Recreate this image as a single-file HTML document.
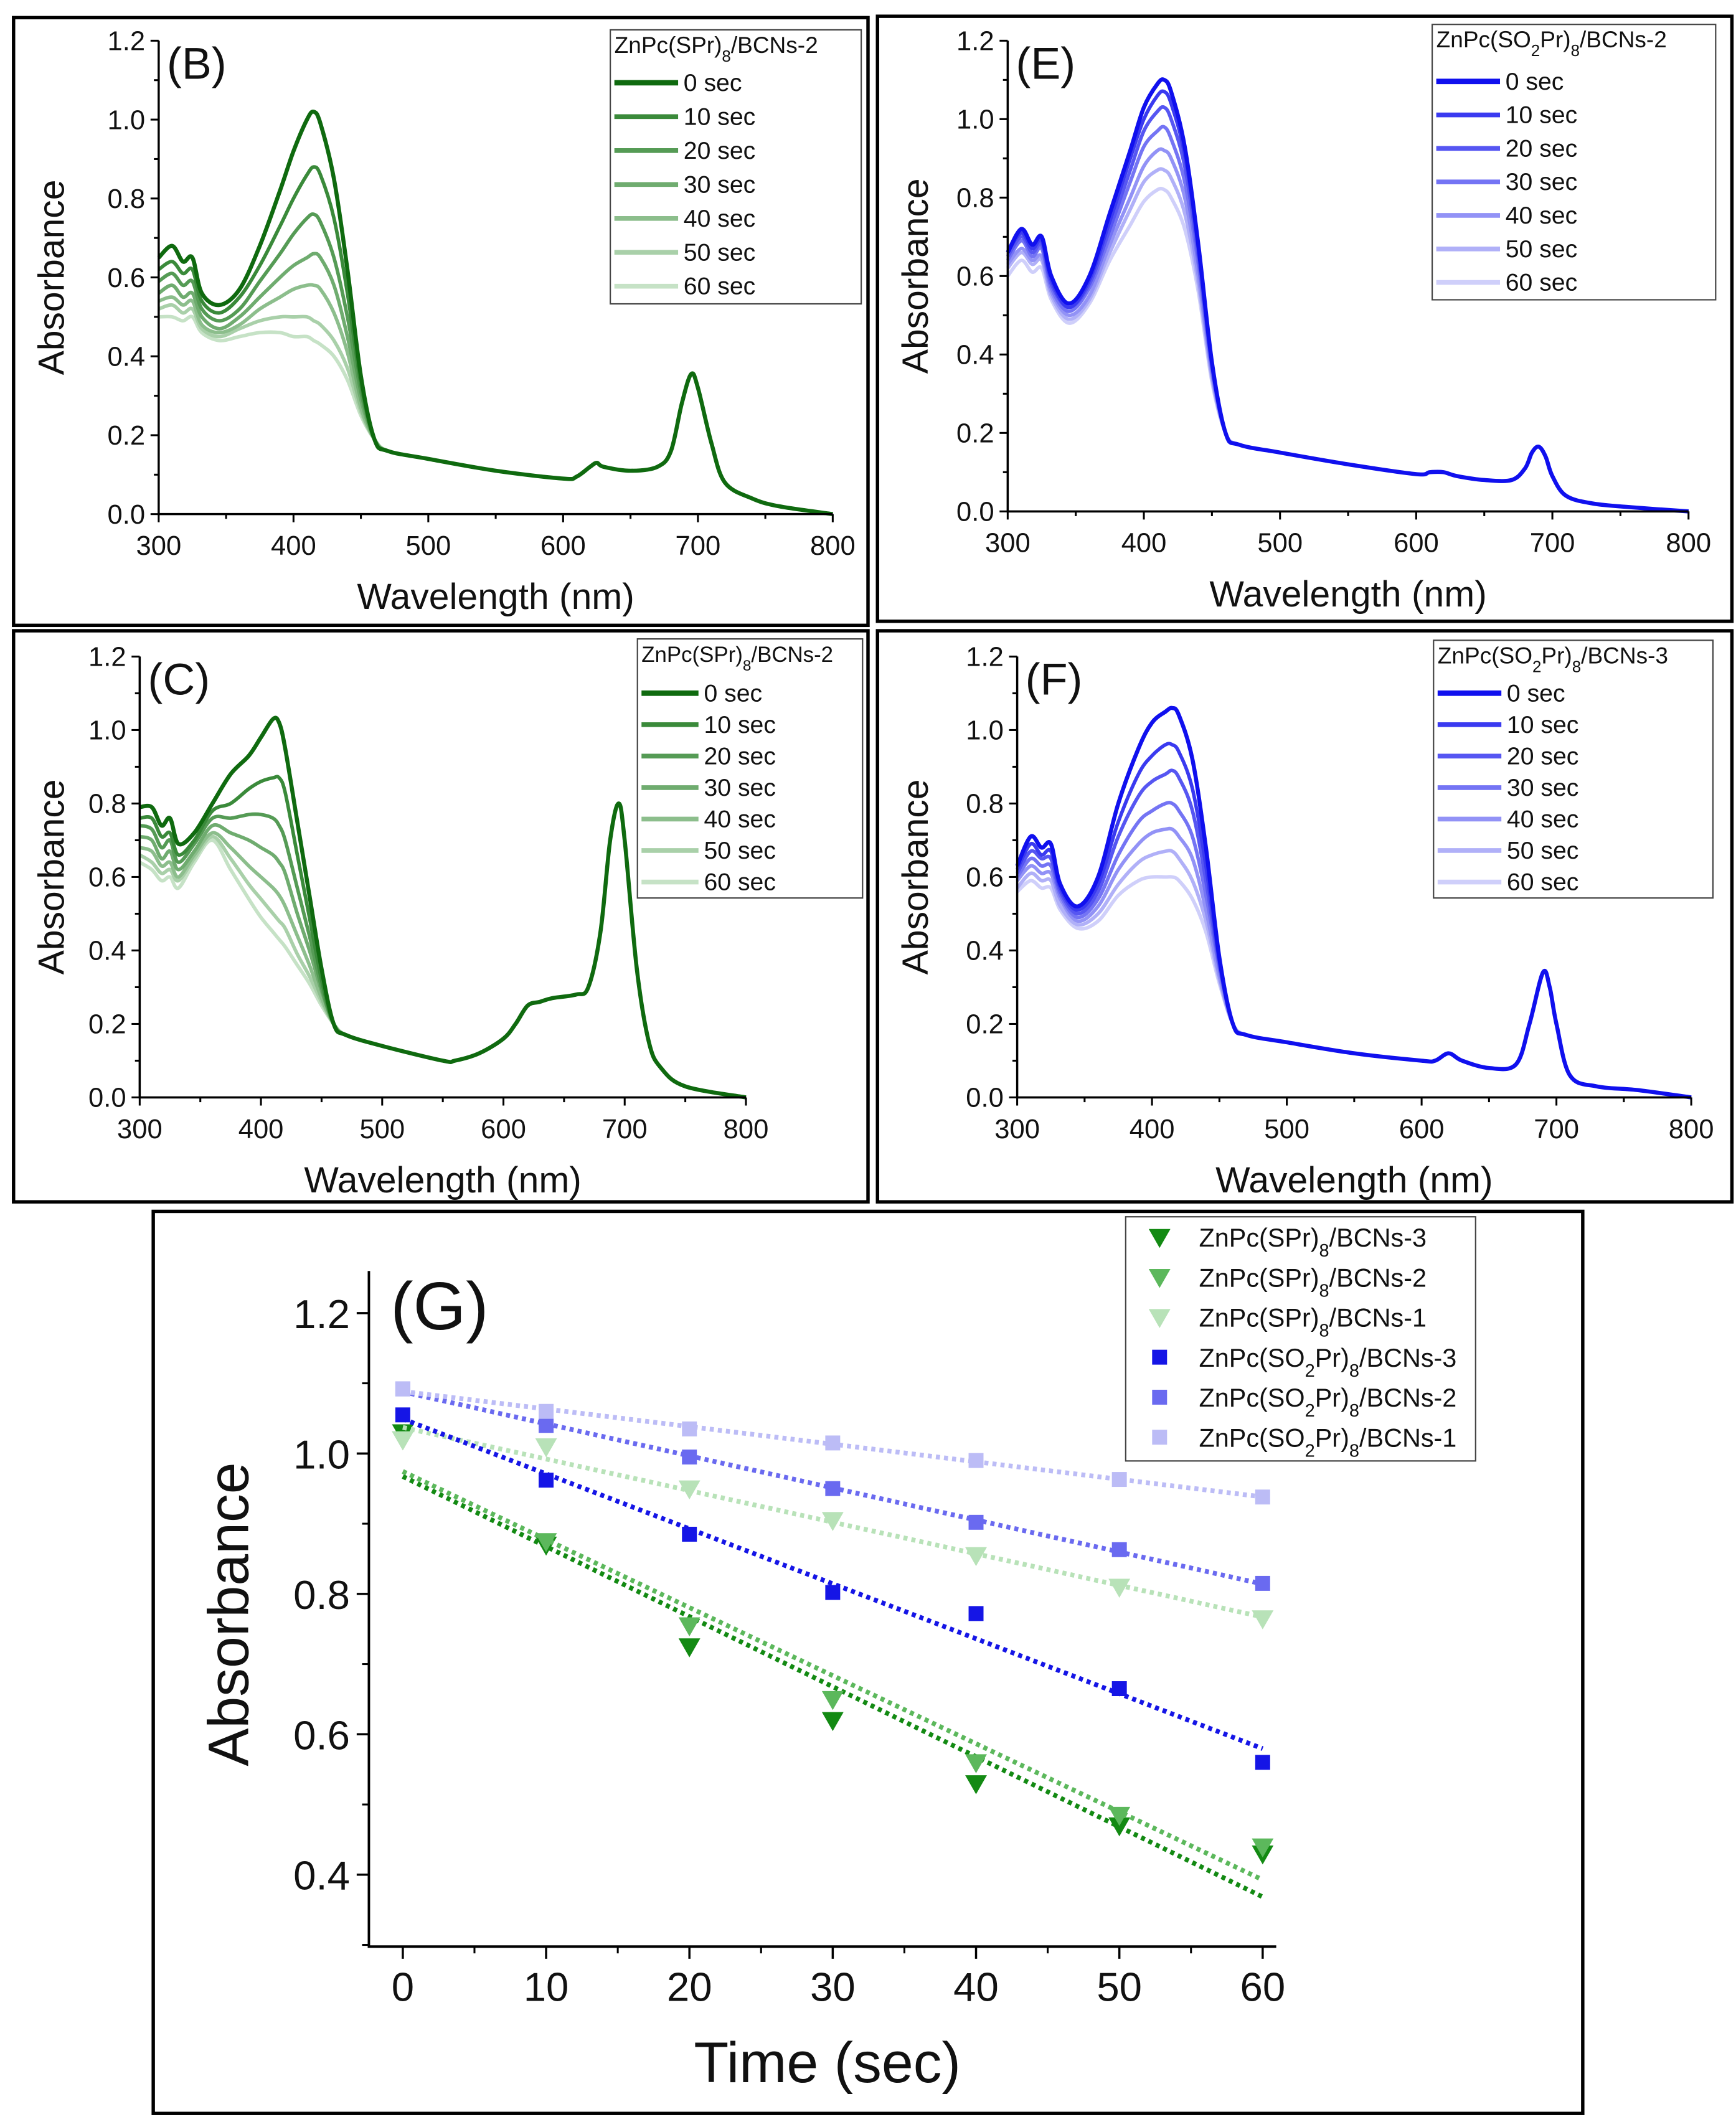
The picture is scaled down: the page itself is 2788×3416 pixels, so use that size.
<!DOCTYPE html>
<html><head><meta charset="utf-8"><style>
html,body{margin:0;padding:0;background:#fff}
svg{display:block}
text{font-family:"Liberation Sans",sans-serif;fill:#111}
</style></head><body>
<svg id="fig" width="2788" height="3416" viewBox="0 0 1280 1568" preserveAspectRatio="none" xmlns="http://www.w3.org/2000/svg"></svg>
<script>
// ---------- Spectral data ----------
const headWl = [300,310,318,325,332,345,360,375,390,400,410,415,420,430,440,450,460];
const timeLabels = ["0 sec","10 sec","20 sec","30 sec","40 sec","50 sec","60 sec"];

const headB = [
 [.65,.68,.64,.65,.56,.53,.57,.68,.82,.92,1.00,1.02,.99,.85,.62,.35,.19],
 [.62,.64,.61,.62,.54,.51,.55,.63,.73,.80,.86,.88,.86,.75,.56,.33,.19],
 [.59,.61,.58,.59,.52,.49,.52,.59,.66,.71,.75,.76,.74,.65,.50,.31,.19],
 [.56,.58,.55,.56,.50,.47,.50,.55,.60,.63,.65,.66,.65,.58,.45,.29,.19],
 [.54,.55,.53,.54,.48,.46,.48,.52,.55,.57,.58,.58,.57,.51,.41,.27,.19],
 [.52,.53,.51,.52,.47,.45,.47,.49,.50,.50,.50,.49,.48,.44,.37,.26,.19],
 [.50,.50,.49,.50,.46,.44,.45,.46,.46,.45,.45,.44,.43,.40,.34,.25,.19]];
const tailWlB = [470,500,550,600,610,620,625,630,650,670,680,688,695,700,710,720,740,760,800];
const tailB = [.16,.14,.11,.09,.095,.12,.13,.12,.11,.12,.16,.28,.355,.32,.18,.08,.04,.02,.0];

const headE = [
 [.66,.72,.68,.70,.60,.53,.60,.76,.92,1.03,1.09,1.10,1.07,.93,.68,.38,.20],
 [.66,.71,.67,.69,.59,.52,.59,.74,.90,1.00,1.06,1.07,1.04,.91,.67,.38,.20],
 [.65,.70,.66,.68,.58,.52,.58,.72,.87,.97,1.02,1.03,1.00,.88,.65,.37,.20],
 [.64,.69,.65,.67,.57,.51,.57,.70,.84,.93,.97,.98,.95,.84,.63,.36,.20],
 [.63,.67,.64,.65,.56,.50,.55,.68,.80,.88,.92,.92,.90,.80,.60,.35,.20],
 [.62,.66,.63,.64,.55,.49,.54,.66,.77,.84,.87,.87,.85,.76,.58,.34,.20],
 [.60,.64,.61,.62,.54,.48,.53,.64,.73,.79,.82,.82,.80,.72,.56,.33,.20]];
const tailWlE = [470,500,550,600,610,620,630,650,670,680,685,690,695,700,710,730,760,800];
const tailE = [.17,.15,.12,.095,.10,.10,.09,.08,.08,.11,.15,.165,.14,.09,.04,.02,.01,0];

const headC = [
 [.79,.79,.74,.76,.69,.72,.80,.88,.93,.98,1.03,1.02,.95,.75,.55,.35,.20],
 [.76,.76,.71,.72,.66,.70,.78,.80,.84,.86,.87,.87,.83,.66,.49,.32,.20],
 [.74,.73,.68,.70,.64,.69,.76,.76,.77,.77,.76,.74,.70,.57,.44,.30,.20],
 [.71,.70,.65,.67,.62,.67,.74,.72,.70,.68,.66,.64,.61,.50,.40,.29,.20],
 [.68,.67,.63,.64,.60,.66,.72,.68,.63,.60,.57,.55,.52,.44,.36,.27,.20],
 [.66,.64,.61,.62,.59,.65,.71,.65,.58,.54,.50,.48,.46,.39,.33,.26,.20],
 [.64,.62,.59,.60,.57,.64,.70,.62,.54,.49,.45,.43,.41,.36,.31,.25,.20]];
const tailWlC = [470,500,550,560,580,600,610,620,630,640,660,670,680,688,695,700,710,720,730,750,800];
const tailC = [.17,.14,.10,.10,.12,.16,.20,.25,.26,.27,.28,.30,.45,.70,.80,.70,.35,.15,.08,.03,0];

const headF = [
 [.63,.71,.68,.69,.58,.52,.60,.80,.95,1.02,1.05,1.06,1.04,.92,.68,.38,.20],
 [.62,.69,.66,.67,.57,.51,.58,.75,.88,.93,.96,.96,.94,.84,.63,.37,.20],
 [.61,.67,.65,.65,.56,.50,.56,.71,.82,.86,.88,.89,.87,.78,.59,.36,.20],
 [.60,.65,.63,.63,.55,.49,.54,.66,.75,.78,.80,.80,.78,.71,.55,.35,.20],
 [.59,.63,.61,.61,.54,.48,.52,.62,.69,.72,.73,.73,.71,.65,.51,.33,.20],
 [.57,.61,.59,.59,.52,.47,.50,.58,.64,.66,.67,.67,.65,.59,.48,.32,.20],
 [.56,.59,.57,.57,.51,.46,.48,.55,.59,.60,.60,.60,.59,.54,.45,.31,.20]];
const tailWlF = [470,500,550,600,610,620,630,650,670,680,690,695,700,710,730,760,800];
const tailF = [.17,.15,.12,.10,.10,.12,.10,.08,.09,.20,.34,.30,.20,.06,.03,.02,0];

// ---------- Kinetics data (G) ----------
const timePts = [0,10,20,30,40,50,60];
const gNames = ["BCNs-3","BCNs-2","BCNs-1","BCNs-3","BCNs-2","BCNs-1"];
const gSPr3 = [1.03,0.87,0.725,0.62,0.53,0.47,0.43];
const gSPr2 = [1.02,0.875,0.755,0.65,0.56,0.485,0.44];
const gSPr1 = [1.02,1.01,0.95,0.905,0.855,0.81,0.765];
const gSO3 = [1.055,0.962,0.885,0.802,0.772,0.665,0.56];
const gSO2 = [1.092,1.04,0.995,0.95,0.902,0.863,0.815];
const gSO1 = [1.092,1.06,1.035,1.015,0.99,0.963,0.938];
const yTicksG = [0.4,0.6,0.8,1.0,1.2];
const xTicksG = [0,10,20,30,40,50,60];

const NS="http://www.w3.org/2000/svg";
const svg=document.getElementById('fig');
function el(tag,attrs,parent){const e=document.createElementNS(NS,tag);for(const k in attrs)e.setAttribute(k,attrs[k]);(parent||svg).appendChild(e);return e;}
function smooth(pts){let d=`M${pts[0][0]},${pts[0][1]}`;for(let i=0;i<pts.length-1;i++){const p0=pts[i-1]||pts[i],p1=pts[i],p2=pts[i+1],p3=pts[i+2]||p2;const c1=[p1[0]+(p2[0]-p0[0])/6,p1[1]+(p2[1]-p0[1])/6],c2=[p2[0]-(p3[0]-p1[0])/6,p2[1]-(p3[1]-p1[1])/6];d+=`C${c1[0]},${c1[1]} ${c2[0]},${c2[1]} ${p2[0]},${p2[1]}`;}return d;}
function nameText(t,parts,isSub){ // parts: [[text,sub?],...]
 parts.forEach(p=>{const s=el('tspan',{},t);s.textContent=p[0];if(p[1]){s.setAttribute('baseline-shift','sub');s.setAttribute('font-size','70%');}});}

const greens=["#0f6a0f","#3a8a3a","#559b55","#6fac6f","#8cbe8c","#a9d0a9","#c6e2c6"];
const blues=["#1010ee","#3a3af0","#5656f2","#7474f4","#9292f6","#b0b0f8","#cfcffa"];

function panel(c){
 const g=el('g',{});
 
 
 const box=el('rect',{x:c.box[0],y:c.box[1],width:c.box[2],height:c.box[3],fill:'none',stroke:'#000','stroke-width':2.5},g);
 
 const X=v=>c.x0+(v-300)/500*(c.x1-c.x0), Y=v=>c.y0-v/1.2*(c.y0-c.y1);
 // curves (draw lightest first)
 for(let k=c.head.length-1;k>=0;k--){
  const pts=c.headWl.map((w,i)=>[X(w),Y(c.head[k][i])]).concat(c.tailWl.map((w,i)=>[X(w),Y(c.tail[i])]));
  const p=el('path',{d:smooth(pts),fill:'none',stroke:c.colors[k],'stroke-width':k==0?3:2.6,'stroke-linejoin':'round'},g);
  
 }
 // axes
 const ax=el('path',{d:`M${c.x0},${Y(1.2)}V${c.y0}H${c.x1}`,fill:'none',stroke:'#000','stroke-width':1.6},g);
 
 for(let v=0;v<=12;v++){const y=Y(v/10);el('line',{x1:c.x0,x2:c.x0-(v%2?3.5:6),y1:y,y2:y,stroke:'#000','stroke-width':1.4},g);
  if(v%2==0){const t=el('text',{x:c.x0-10,y:y+7,'font-size':20,'text-anchor':'end'},g);t.textContent=(v/10).toFixed(1);}}
 for(let w=300;w<=800;w+=50){const x=X(w);el('line',{x1:x,x2:x,y1:c.y0,y2:c.y0+(w%100?3.5:6),stroke:'#000','stroke-width':1.4},g);
  if(w%100==0){const t=el('text',{x:x,y:c.y0+30,'font-size':20,'text-anchor':'middle'},g);t.textContent=w;}}
 const yt=el('text',{x:0,y:0,'font-size':27,'text-anchor':'middle',transform:`translate(${c.box[0]+37},${(Y(0)+Y(1.2))/2}) rotate(-90)`},g);yt.textContent='Absorbance';
 const xt=el('text',{x:(c.x0+c.x1)/2,y:c.y0+70,'font-size':27,'text-anchor':'middle'},g);xt.textContent='Wavelength (nm)';
 const pl=el('text',{x:c.x0+6,y:Y(1.2)+28,'font-size':33},g);pl.textContent=c.label;
 // legend
 const L=c.leg;const lg=el('g',{},g);
 el('rect',{x:L.x,y:L.y,width:L.w,height:L.h,fill:'#fff',stroke:'#444','stroke-width':1},lg);
 const tt=el('text',{x:L.x+3,y:L.y+17,'font-size':L.fs},lg);nameText(tt,c.title);
 timeLabels.forEach((s,k)=>{const y=L.r0+k*L.dr;
  const e=el('g',{},lg);
  el('line',{x1:L.x+3,x2:L.lx,y1:y,y2:y,stroke:c.colors[k],'stroke-width':k==0?4:3.5},e);
  const t=el('text',{x:L.lx+4,y:y+6,'font-size':18},e);t.textContent=s;});
}
panel({name:'panel-b',box:[10,13,630,448],x0:117,x1:614,y0:379,y1:30,head:headB,headWl:headWl,tail:tailB,tailWl:tailWlB,colors:greens,label:'(B)',
 title:[["ZnPc(SPr)"],["8",1],["/BCNs-2"]],leg:{x:450,y:22,w:185,h:202,fs:17,lx:500,r0:61,dr:25}});
panel({name:'panel-e',box:[647,12,630,446],x0:743,x1:1245,y0:377,y1:30,head:headE,headWl:headWl,tail:tailE,tailWl:tailWlE,colors:blues,label:'(E)',
 title:[["ZnPc(SO"],["2",1],["Pr)"],["8",1],["/BCNs-2"]],leg:{x:1056,y:18,w:209,h:203,fs:17,lx:1106,r0:60,dr:24.7}});
panel({name:'panel-c',box:[10,465,630,421],x0:103,x1:550,y0:809,y1:484,head:headC,headWl:headWl,tail:tailC,tailWl:tailWlC,colors:greens,label:'(C)',
 title:[["ZnPc(SPr)"],["8",1],["/BCNs-2"]],leg:{x:470,y:471,w:166,h:191,fs:16,lx:515,r0:511,dr:23.2}});
panel({name:'panel-f',box:[647,465,630,421],x0:750,x1:1247,y0:809,y1:484,head:headF,headWl:headWl,tail:tailF,tailWl:tailWlF,colors:blues,label:'(F)',
 title:[["ZnPc(SO"],["2",1],["Pr)"],["8",1],["/BCNs-3"]],leg:{x:1057,y:472,w:206,h:190,fs:17,lx:1107,r0:511,dr:23.2}});

// ---------- Panel G ----------
(function(){
 const g=el('g',{});
 const b=el('rect',{x:113,y:893,width:1054,height:665,fill:'none',stroke:'#000','stroke-width':2.5},g);
 const X=t=>297+t/60*(931-297), Y=v=>1382-(v-0.4)/0.8*(1382-968);
 const axL=272,axB=1435;
 const ax=el('path',{d:`M${axL},${Y(1.26)}V${axB}H941`,fill:'none',stroke:'#000','stroke-width':1.8},g);
 yTicksG.forEach(v=>{const y=Y(v);el('line',{x1:axL,x2:axL-9,y1:y,y2:y,stroke:'#000','stroke-width':1.6},g);
  const t=el('text',{x:axL-14,y:y+11,'font-size':30,'text-anchor':'end'},g);t.textContent=v.toFixed(1);
  const ym=Y(v+0.1);if(v<1.2)el('line',{x1:axL,x2:axL-5,y1:ym,y2:ym,stroke:'#000','stroke-width':1.4},g);});
 el('line',{x1:axL,x2:axL-5,y1:Y(0.3),y2:Y(0.3),stroke:'#000','stroke-width':1.4},g);
 xTicksG.forEach(v=>{const x=X(v);el('line',{x1:x,x2:x,y1:axB,y2:axB+9,stroke:'#000','stroke-width':1.6},g);
  const t=el('text',{x:x,y:axB+40,'font-size':30,'text-anchor':'middle'},g);t.textContent=v;
  if(v<60){const xm=X(v+5);el('line',{x1:xm,x2:xm,y1:axB,y2:axB+5,stroke:'#000','stroke-width':1.4},g);}});
 const yt=el('text',{x:0,y:0,'font-size':42,'text-anchor':'middle',transform:`translate(183,1190) rotate(-90)`},g);yt.textContent='Absorbance';
 const xt=el('text',{x:610,y:1535,'font-size':42,'text-anchor':'middle'},g);xt.textContent='Time (sec)';
 const pl=el('text',{x:288,y:980,'font-size':50},g);pl.textContent='(G)';
 const series=[[gSPr3,'#138a13','tri'],[gSPr2,'#5cb85c','tri'],[gSPr1,'#b8e2b8','tri'],[gSO3,'#1515e6','sq'],[gSO2,'#6a6af0','sq'],[gSO1,'#bcbcf6','sq']];
 function marker(parent,x,y,col,shape){if(shape=='tri')return el('path',{d:`M${x-8},${y-6}H${x+8}L${x},${y+8}Z`,fill:col},parent);return el('rect',{x:x-5.5,y:y-5.5,width:11,height:11,fill:col},parent);}
 series.forEach((s,si)=>{const vals=s[0];const sg=el('g',{},g);
  const n=vals.length,mx=timePts.reduce((a,b)=>a+b)/n,my=vals.reduce((a,b)=>a+b)/n;let sxy=0,sxx=0;timePts.forEach((t,i)=>{sxy+=(t-mx)*(vals[i]-my);sxx+=(t-mx)*(t-mx);});const m=sxy/sxx,c0=my-m*mx;
  const fl=el('line',{x1:X(0),y1:Y(c0),x2:X(60),y2:Y(c0+m*60),stroke:s[1],'stroke-width':3.5,'stroke-dasharray':'3 3'},sg);
  timePts.forEach((t,i)=>{const mk=marker(sg,X(t),Y(vals[i]),s[1],s[2]);});});
 const lg=el('g',{},g);
 el('rect',{x:830,y:897,width:258,height:180,fill:'#fff',stroke:'#444','stroke-width':1},lg);
 series.forEach((s,i)=>{const y=912+i*29.5;const e=el('g',{},lg);
  marker(e,855,y,s[1],s[2]);const t=el('text',{x:884,y:y+7,'font-size':19},e);
  nameText(t,i<3?[["ZnPc(SPr)"],["8",1],["/"+gNames[i]]]:[["ZnPc(SO"],["2",1],["Pr)"],["8",1],["/"+gNames[i]]]);});
})();
</script>
</body></html>
